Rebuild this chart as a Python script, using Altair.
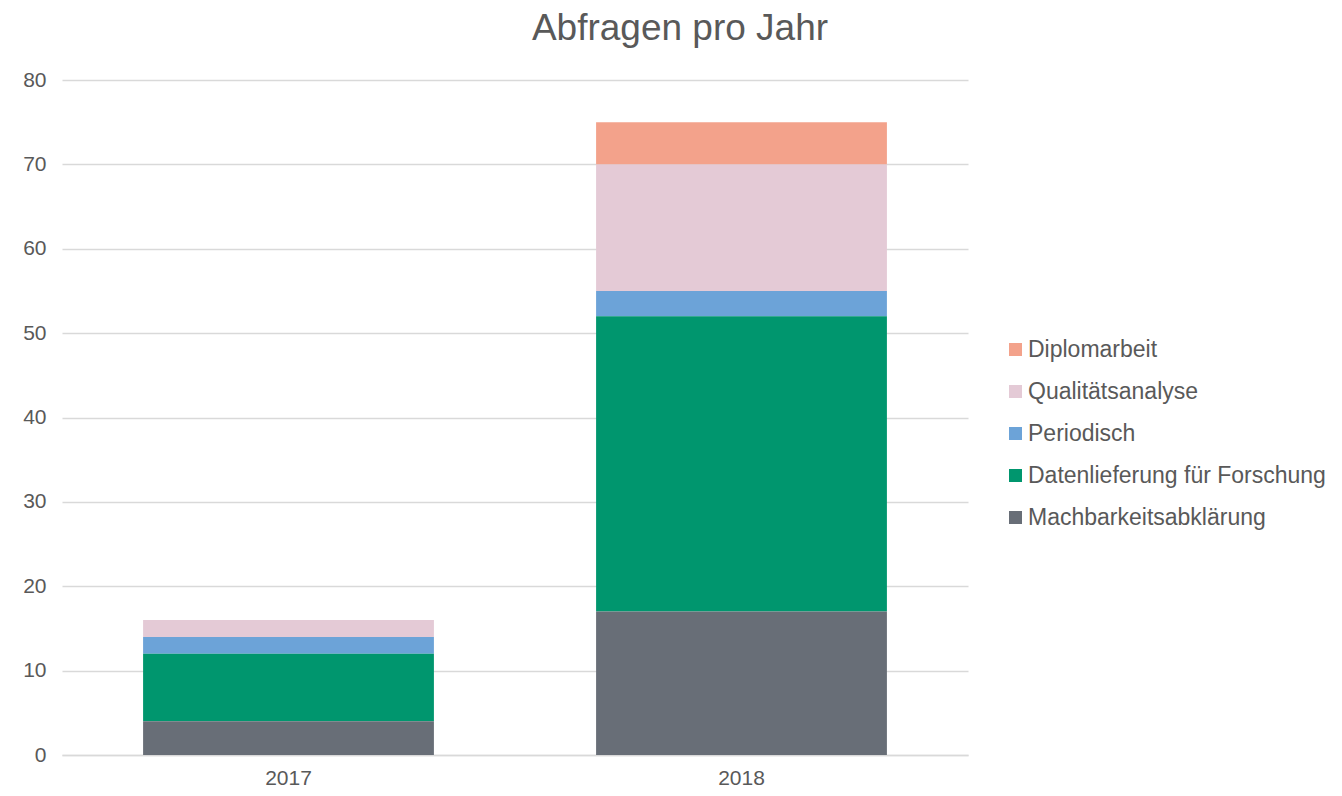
import altair as alt
import pandas as pd

years = ["2017", "2018"]
categories = ["Diplomarbeit", "Qualitätsanalyse", "Periodisch",
              "Datenlieferung für Forschung", "Machbarkeitsabklärung"]
colors = ["#f3a28b", "#e4cad6", "#6ca3d8", "#00966e", "#686e77"]
stack_rank = [4, 3, 2, 1, 0]
values_2017 = [0, 2, 2, 8, 4]
values_2018 = [5, 15, 3, 35, 17]

rows = []
for cat, rank, v17, v18 in zip(categories, stack_rank, values_2017, values_2018):
    rows.append({"Jahr": "2017", "Kategorie": cat, "Wert": v17, "rank": rank})
    rows.append({"Jahr": "2018", "Kategorie": cat, "Wert": v18, "rank": rank})
df = pd.DataFrame(rows)

font = "Liberation Sans"
text_color = "#595959"

chart = alt.Chart(df).mark_bar().encode(
    x=alt.X("Jahr:N", sort=years,
            scale=alt.Scale(paddingInner=0.358, paddingOuter=0.179),
            axis=alt.Axis(title=None, labelAngle=0, ticks=False,
                          domainColor="#d9d9d9", domainWidth=1.5,
                          labelFontSize=21, labelColor=text_color,
                          labelFont=font, labelPadding=12)),
    y=alt.Y("Wert:Q", stack="zero",
            scale=alt.Scale(domain=[0, 80]),
            axis=alt.Axis(title=None, values=[0, 10, 20, 30, 40, 50, 60, 70, 80],
                          domain=False, ticks=False,
                          gridColor="#d9d9d9", gridWidth=1.5,
                          labelFontSize=21, labelColor=text_color,
                          labelFont=font, labelPadding=16)),
    color=alt.Color("Kategorie:N",
                    scale=alt.Scale(domain=categories, range=colors),
                    legend=alt.Legend(title=None, orient="none",
                                      legendX=942, legendY=258,
                                      symbolType="square", symbolSize=169,
                                      symbolStrokeWidth=0,
                                      labelFontSize=23, labelColor=text_color,
                                      labelFont=font, rowPadding=18,
                                      labelOffset=1, labelLimit=400)),
    order=alt.Order("rank:Q", sort="ascending"),
).properties(
    width=906,
    height=675,
    title=alt.TitleParams("Abfragen pro Jahr", fontSize=37, font=font,
                          color=text_color, fontWeight="normal",
                          anchor="middle", dx=165, offset=21),
    autosize=alt.AutoSizeParams(type="none"),
    padding={"left": 54, "top": 72, "right": 366, "bottom": 33},
).configure_view(stroke=None)

chart.save("out.html", embed_options={"renderer": "svg", "actions": False})
